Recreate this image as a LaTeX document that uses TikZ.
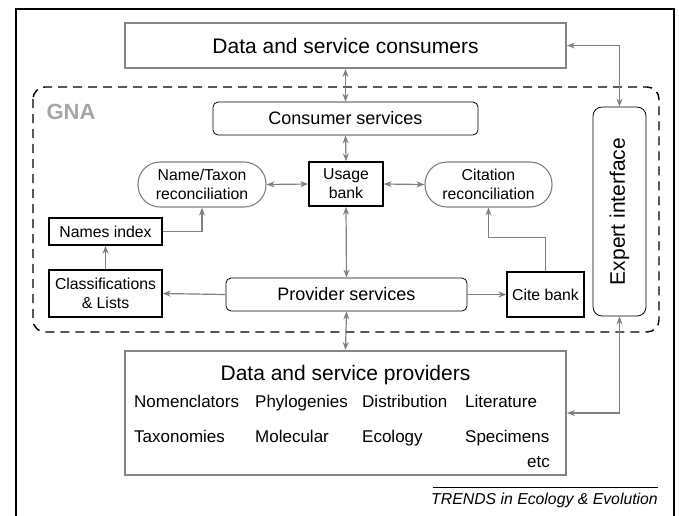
\documentclass[tikz,border=0pt]{standalone}
\usepackage{fontspec}
\setmainfont{Liberation Sans}
\usetikzlibrary{arrows.meta}

\begin{document}
\begin{tikzpicture}[x=1pt,y=-1pt]
\tikzstyle{big}=[draw=black!48, line width=2pt, inner sep=0pt, font=\fontsize{21}{24}\selectfont]
\tikzstyle{svc}=[draw, rounded corners=5pt, line width=0.8pt, inner sep=0pt, font=\fontsize{18}{21}\selectfont]
\tikzstyle{bank}=[draw, line width=1.4pt, inner sep=0pt, align=center, font=\fontsize{15.8}{19}\selectfont]
\tikzstyle{recon}=[draw=black!50, rounded corners=22pt, line width=1.1pt, inner sep=0pt, align=center, font=\fontsize{15.8}{19}\selectfont]
\tikzstyle{item}=[anchor=base west, inner sep=0pt, font=\fontsize{17}{20}\selectfont]
\tikzstyle{arr}=[draw=black!50, line width=1.2pt, {Stealth[length=8pt,width=6pt]}-{Stealth[length=8pt,width=6pt]}]
\tikzstyle{to}=[draw=black!50, line width=1.2pt, -{Stealth[length=8pt,width=6pt]}]
\useasboundingbox (0,0) rectangle (679,515);

% frame and GNA region
\draw[line width=1.2pt] (16,530) -- (16,9) -- (674,9) -- (674,530);
\draw[dashed, dash pattern=on 9pt off 6pt, line width=1.4pt, rounded corners=12pt] (33,87) rectangle (659,332);
\node[font=\fontsize{22}{24}\selectfont\bfseries, text=black!35] (gna) at (71,112) {GNA};

% boxes
\node[big, minimum width=441pt, minimum height=45pt] (cons) at (345.5,45.5) {Data and service consumers};
\node[big, minimum width=441pt, minimum height=124pt] (prov) at (345.5,413) {};
\node[svc, minimum width=265pt, minimum height=33pt] (csv) at (345.5,118.5) {Consumer services};
\node[svc, minimum width=241pt, minimum height=33pt] (psv) at (346.5,294.5) {Provider services};
\node[bank, minimum width=74pt, minimum height=44pt] (usage) at (346,184) {Usage\\bank};
\node[recon, minimum width=128pt, minimum height=45pt] (ntr) at (202,184.5) {Name/Taxon\\reconciliation};
\node[recon, minimum width=127pt, minimum height=45pt] (cit) at (488.5,184.5) {Citation\\reconciliation};
\node[bank, minimum width=113pt, minimum height=27pt] (nidx) at (105.5,231.5) {Names index};
\node[bank, minimum width=113pt, minimum height=47pt] (cls) at (105.5,293.5) {Classifications\\\& Lists};
\node[bank, minimum width=77pt, minimum height=45pt] (cite) at (545.5,294.5) {Cite bank};
\node[svc, rounded corners=9pt, minimum width=53pt, minimum height=209pt,
  label={[rotate=90, font=\fontsize{21}{24}\selectfont]center:Expert interface}] (exp) at (619.5,211.5) {};

% provider contents
\node[anchor=base, font=\fontsize{21}{24}\selectfont, inner sep=0pt] (provt) at (345.5,380) {Data and service providers};
\foreach \n/\x/\y/\t in {nom/134/407/Nomenclators, phy/255/407/Phylogenies, dis/362/407/Distribution, lit/465/407/Literature,
  tax/134/442/Taxonomies, mol/255/442/Molecular, eco/362/442/Ecology, spc/465/442/Specimens}
  \node[item] (\n) at (\x,\y) {\t};
\node[item, anchor=base east] (etc) at (550,467) {etc};

% connectors
\foreach \a/\b in {cons/csv, csv/usage, usage/psv, psv/prov}
  \draw[arr] (\a.south) -- (\b.north);
\draw[arr] (ntr.east) -- (usage.west);
\draw[arr] (usage.east) -- (cit.west);
\draw[to] (nidx.east) -| (ntr.south);
\draw[to] (cls.north) -- (nidx.south);
\draw[to] (psv.west) -- (cls.east);
\draw[to] (psv.east) -- (cite.west);
\draw[to] (cite.north) -- ++(0,-34) -| (cit.south);
\draw[arr] (cons.east) -| (exp.north);
\draw[arr] (exp.south) |- (prov.east);

% source line
\draw[line width=0.8pt] (433,487) coordinate (src) -- (658,487);
\node[anchor=base east, inner sep=0pt, font=\fontsize{15.8}{18}\selectfont\itshape] (trends) at (658,504) {TRENDS in Ecology \& Evolution};
\end{tikzpicture}
\end{document}
